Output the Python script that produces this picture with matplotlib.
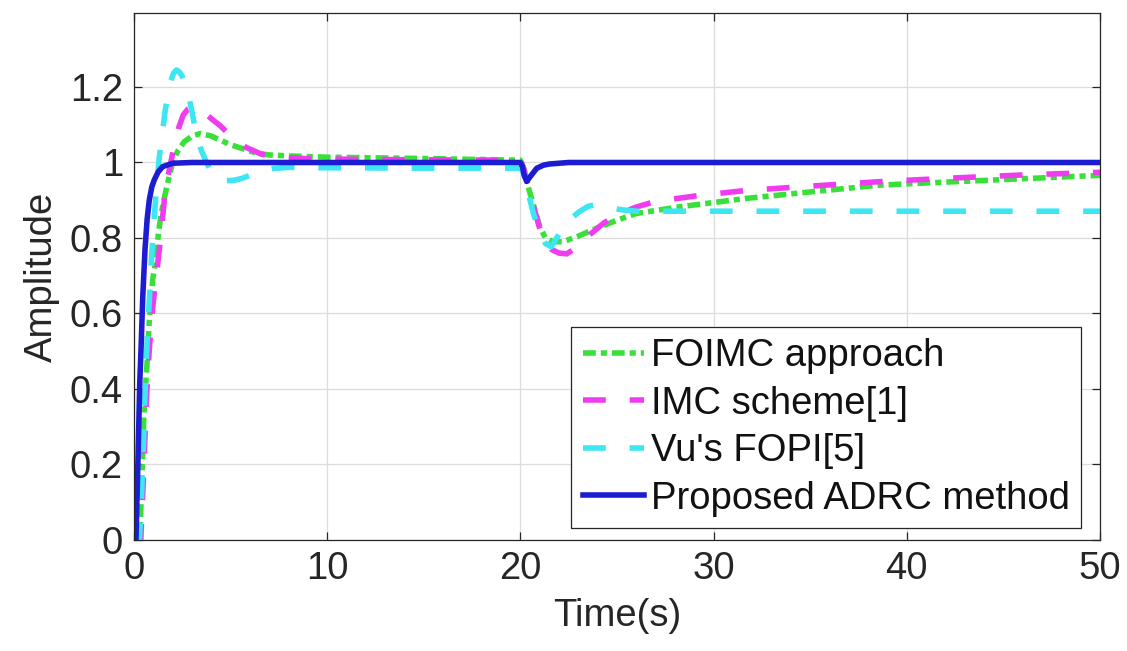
import matplotlib
matplotlib.use("Agg")
import matplotlib.pyplot as plt
from matplotlib.ticker import FixedLocator, FuncFormatter

# ---------------- data ----------------
labels = ["FOIMC approach", "IMC scheme[1]", "Vu's FOPI[5]", "Proposed ADRC method"]

t_foimc = [0, 0.3, 0.4, 0.51, 0.6, 0.68, 0.79, 0.97, 1.06, 1.31, 1.5, 1.78, 2.0,
           2.26, 2.6, 3.0, 3.45, 4.0, 5.0, 6.4, 7.0, 8.2, 10, 14.5, 20.0,
           20.2, 20.4, 20.7, 21.0, 21.3, 21.7, 22.2, 23.0, 24.0, 25.0, 26.0,
           28.3, 31.7, 35.2, 38.6, 42, 46, 50]
y_foimc = [0, 0, 0.15, 0.33, 0.41, 0.47, 0.58, 0.69, 0.72, 0.83, 0.89, 0.954, 1.0,
           1.03, 1.055, 1.07, 1.077, 1.07, 1.047, 1.024, 1.02, 1.017, 1.014, 1.011, 1.006,
           0.98, 0.936, 0.883, 0.83, 0.80, 0.79, 0.79, 0.805, 0.827, 0.847, 0.865,
           0.883, 0.905, 0.923, 0.94, 0.948, 0.957, 0.966]

t_imc = [0, 0.35, 0.5, 0.65, 0.79, 0.92, 1.05, 1.2, 1.31, 1.45, 1.57, 1.75, 2.0,
         2.12, 2.3, 2.55, 2.8, 3.1, 3.4, 3.8, 4.1, 4.45, 5.1, 5.8, 6.6, 7.5, 9,
         12, 20.0, 20.2, 20.4, 20.7, 21.0, 21.2, 21.6, 22.0, 22.4, 22.9, 23.5,
         24.3, 25.0, 26.0, 27.0, 29.3, 31.7, 35.2, 38.5, 42, 46, 50]
y_imc = [0, 0, 0.18, 0.38, 0.503, 0.59, 0.654, 0.72, 0.768, 0.84, 0.9, 0.96, 1.024,
         1.05, 1.09, 1.126, 1.142, 1.148, 1.142, 1.125, 1.112, 1.098, 1.066, 1.04, 1.022, 1.014, 1.01,
         1.008, 1.006, 0.98, 0.936, 0.88, 0.825, 0.795, 0.77, 0.76, 0.758, 0.775, 0.805,
         0.839, 0.862, 0.882, 0.897, 0.913, 0.926, 0.938, 0.949, 0.958, 0.967, 0.974]

t_vu = [0, 0.28, 0.4, 0.5, 0.6, 0.7, 0.8, 0.93, 1.14, 1.31, 1.45, 1.62, 1.75, 1.9,
        2.05, 2.2, 2.35, 2.5, 2.65, 2.8, 3.0, 3.25, 3.5, 3.76, 4.1, 4.45, 4.8,
        5.2, 5.6, 6.0, 6.5, 7.2, 8.0, 10, 15, 20.0, 20.15, 20.3, 20.5, 20.7,
        21.0, 21.3, 21.6, 22.0, 22.5, 23.0, 23.5, 23.9, 24.5, 25.2, 26.0, 50]
y_vu = [0, 0, 0.13, 0.27, 0.43, 0.55, 0.64, 0.768, 0.919, 1.015, 1.07, 1.139, 1.18, 1.215,
        1.237, 1.245, 1.24, 1.228, 1.208, 1.183, 1.135, 1.068, 1.03, 1.0, 0.965, 0.955, 0.952,
        0.953, 0.958, 0.966, 0.976, 0.984, 0.987, 0.986, 0.985, 0.985, 0.975, 0.95, 0.9, 0.86,
        0.815, 0.785, 0.777, 0.81, 0.845, 0.868, 0.884, 0.888, 0.882, 0.875, 0.871, 0.871]

t_adrc = [0, 0.1, 0.2, 0.3, 0.36, 0.45, 0.57, 0.68, 0.79, 0.92, 1.05, 1.25, 1.48,
          2.0, 3.0, 20.0, 20.1, 20.2, 20.33, 20.5, 20.85, 21.2, 21.5, 22.5, 50]
y_adrc = [0, 0, 0.2, 0.42, 0.5, 0.64, 0.77, 0.85, 0.9, 0.935, 0.954, 0.975, 0.989,
          0.998, 1.0, 1.0, 0.99, 0.965, 0.95, 0.962, 0.985, 0.993, 0.996, 1.0, 1.0]

x_ticks = [0, 10, 20, 30, 40, 50]
y_ticks = [0, 0.2, 0.4, 0.6, 0.8, 1.0, 1.2]

# ---------------- style ----------------
colors = ["#3ae03a", "#f03cf0", "#3ce6f2", "#1c1cd2"]
txt = "#262626"
plt.rcParams["font.family"] = ["Liberation Sans", "DejaVu Sans"]
FS = 27.5

W, H = 1127, 651
fig = plt.figure(figsize=(W / 100, H / 100), dpi=100)
fig.patch.set_facecolor("white")
ax = fig.add_axes([134 / W, 111 / H, 966 / W, 527 / H])

lw = 4.0
ax.plot(t_foimc, y_foimc, color=colors[0], lw=lw, dashes=(2.3, 0.9, 1.1, 0.9),
        label=labels[0])
ax.plot(t_imc, y_imc, color=colors[1], lw=lw, dashes=(4.1, 4.3), label=labels[1])
ax.plot(t_vu, y_vu, color=colors[2], lw=lw, dashes=(4.1, 4.3), label=labels[2])
ax.plot(t_adrc, y_adrc, color=colors[3], lw=lw, solid_joinstyle="round",
        label=labels[3])

ax.set_xlim(0, 50)
ax.set_ylim(0, 1.396)
ax.xaxis.set_major_locator(FixedLocator(x_ticks))
ax.yaxis.set_major_locator(FixedLocator(y_ticks))
ax.yaxis.set_major_formatter(FuncFormatter(lambda v, p: f"{v:g}"))
ax.xaxis.set_major_formatter(FuncFormatter(lambda v, p: f"{v:g}"))

ax.grid(True, color="#dcdcdc", lw=0.9)
ax.set_axisbelow(True)
for s in ax.spines.values():
    s.set_color(txt)
    s.set_linewidth(0.9)
ax.tick_params(direction="in", length=6, width=0.9, colors=txt, labelsize=FS,
               top=True, right=True, labelcolor=txt)
ax.tick_params(axis="x", pad=8)
ax.tick_params(axis="y", pad=8)

ax.set_xlabel("Time(s)", fontsize=FS, color=txt, labelpad=8)
ax.set_ylabel("Amplitude", fontsize=FS, color=txt, labelpad=7)

leg = ax.legend(loc="lower right", bbox_to_anchor=(1 - 19 / 966, 12 / 527),
                borderaxespad=0, fontsize=FS, frameon=True, fancybox=False,
                edgecolor=txt, framealpha=1, handlelength=1.6,
                handletextpad=0.17, borderpad=0.3, labelspacing=0.3)
leg.get_frame().set_linewidth(0.9)
for t in leg.get_texts():
    t.set_color("#111111")

fig.savefig("out.png", dpi=100, facecolor="white")
